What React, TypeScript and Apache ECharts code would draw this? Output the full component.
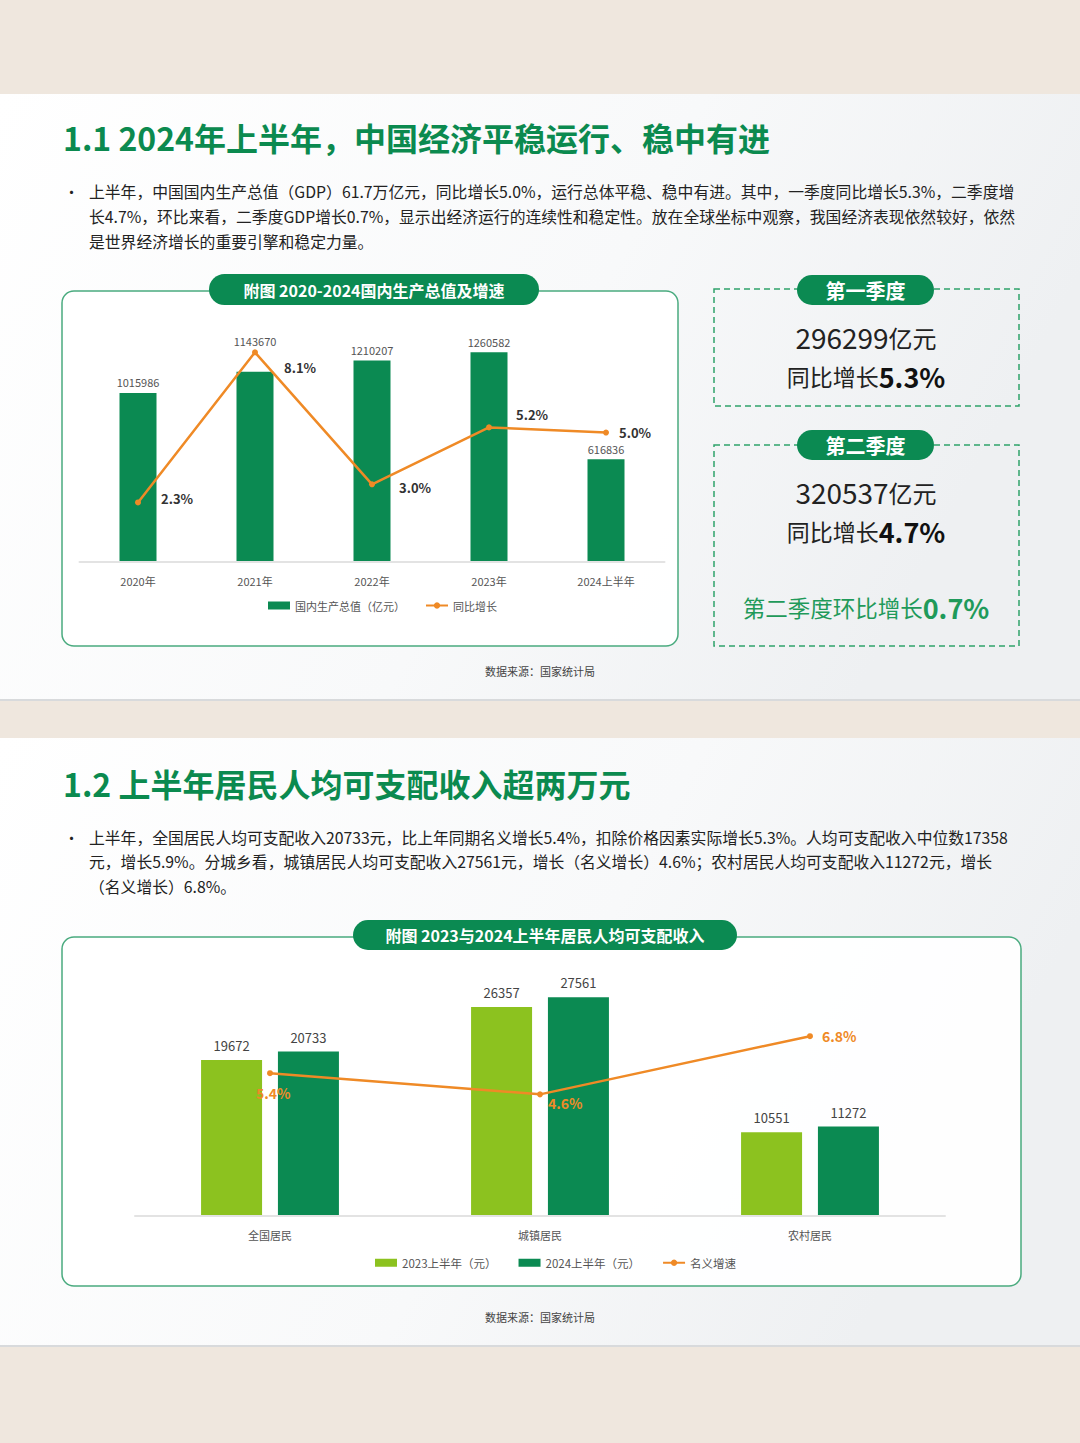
import React, { useEffect, useRef } from "react";
import * as echarts from "echarts";

// chart 1: GDP 2020-2024H1
const years = ["2020年", "2021年", "2022年", "2023年", "2024上半年"];
const gdp = [1015986, 1143670, 1210207, 1260582, 616836];
const gdpGrowth = [2.3, 8.1, 3.0, 5.2, 5.0];

// chart 2: per-capita disposable income
const groups = ["全国居民", "城镇居民", "农村居民"];
const income2023 = [19672, 26357, 10551];
const income2024 = [20733, 27561, 11272];
const incomeGrowth = [5.4, 4.6, 6.8];

// quarter cards
const quarters = [
  { name: "第一季度", value: "296299", growth: "5.3%" },
  { name: "第二季度", value: "320537", growth: "4.7%" },
];

const FONT = "'Noto Sans CJK SC', 'Noto Sans', sans-serif";
const GREEN = "#0b8a52";
const LIGHT = "#8cc21f";
const ORANGE = "#ef8a26";

const text1 = [
  "上半年，中国国内生产总值（GDP）61.7万亿元，同比增长5.0%，运行总体平稳、稳中有进。其中，一季度同比增长5.3%，二季度增",
  "长4.7%，环比来看，二季度GDP增长0.7%，显示出经济运行的连续性和稳定性。放在全球坐标中观察，我国经济表现依然较好，依然",
  "是世界经济增长的重要引擎和稳定力量。",
];
const text2 = [
  "上半年，全国居民人均可支配收入20733元，比上年同期名义增长5.4%，扣除价格因素实际增长5.3%。人均可支配收入中位数17358",
  "元，增长5.9%。分城乡看，城镇居民人均可支配收入27561元，增长（名义增长）4.6%；农村居民人均可支配收入11272元，增长",
  "（名义增长）6.8%。",
];

function txt(x: number, y: number, s: string, size: number, fill: string, weight = "normal", align = "left", z = 10): any {
  return {
    type: "text",
    z,
    style: {
      x, y, text: s, fill, fontSize: size, fontWeight: weight, fontFamily: FONT,
      align, textAlign: align, verticalAlign: "middle", textVerticalAlign: "middle",
    },
  };
}

function pill(x: number, y: number, w: number, h: number, label: string, size: number): any[] {
  return [
    { type: "rect", z: 5, shape: { x, y, width: w, height: h, r: h / 2 }, style: { fill: GREEN } },
    txt(x + w / 2, y + h / 2, label, size, "#ffffff", "bold", "center", 6),
  ];
}

function slideBg(y: number, h: number): any[] {
  return [
    {
      type: "rect", z: -10, shape: { x: 0, y, width: 1080, height: h },
      style: {
        fill: new echarts.graphic.LinearGradient(0, 0, 1, 0.3, [
          { offset: 0, color: "#ffffff" },
          { offset: 0.6, color: "#f8f9fa" },
          { offset: 1, color: "#eef0f2" },
        ]),
      },
    },
    { type: "rect", z: -9, shape: { x: 0, y: y + h - 1, width: 1080, height: 2 }, style: { fill: "#d8dadc" } },
  ];
}

function frame(x: number, y: number, w: number, h: number): any[] {
  return [
    { type: "rect", z: -5, shape: { x, y, width: w, height: h, r: 12 }, style: { fill: "rgba(255,255,255,0.92)" } },
    { type: "rect", z: 1, shape: { x, y, width: w, height: h, r: 12 }, style: { fill: "none", stroke: "#4aab7f", lineWidth: 1.5 } },
  ];
}

function rich(x: number, y: number, s: string, styles: any, z = 10): any {
  return {
    type: "text",
    z,
    style: {
      x, y, text: s, rich: styles, fontFamily: FONT,
      align: "center", textAlign: "center", verticalAlign: "middle", textVerticalAlign: "middle",
    },
  };
}

export default function App() {
  const ref = useRef<HTMLDivElement | null>(null);

  useEffect(() => {
    const chart = echarts.init(ref.current!, null, { renderer: "svg" });

    const graphics: any[] = [
      { type: "rect", z: -20, shape: { x: 0, y: 0, width: 1080, height: 1443 }, style: { fill: "#efe7de" } },
      ...slideBg(94, 606),
      ...slideBg(738, 608),
      txt(63, 137, "1.1 2024年上半年，中国经济平稳运行、稳中有进", 32, "#0b8a4f", "bold"),
      txt(63, 783, "1.2 上半年居民人均可支配收入超两万元", 32, "#0b8a4f", "bold"),
      txt(64, 191, "•", 15, "#222"),
      txt(64, 837, "•", 15, "#222"),
      ...text1.map((s, i) => txt(89, 191 + i * 25, s, 15.8, "#222")),
      ...text2.map((s, i) => txt(89, 837 + i * 24.5, s, 15.8, "#222")),
      // chart frames
      ...frame(62, 291, 616, 355),
      ...pill(209, 274, 330, 31, "附图 2020-2024国内生产总值及增速", 16),
      ...frame(62, 937, 959, 349),
      ...pill(353, 920, 384, 30, "附图 2023与2024上半年居民人均可支配收入", 16),
      txt(540, 671, "数据来源：国家统计局", 11, "#444", "normal", "center"),
      txt(540, 1317, "数据来源：国家统计局", 11, "#444", "normal", "center"),
      // quarter cards
      { type: "rect", z: 1, shape: { x: 714, y: 289, width: 305, height: 117 }, style: { fill: "none", stroke: "#2fa36b", lineWidth: 1.5, lineDash: [6, 4] } },
      { type: "rect", z: 1, shape: { x: 714, y: 445, width: 305, height: 201 }, style: { fill: "none", stroke: "#2fa36b", lineWidth: 1.5, lineDash: [6, 4] } },
      ...pill(797, 275, 137, 30, quarters[0].name, 20),
      ...pill(797, 430, 137, 30, quarters[1].name, 20),
      ...quarters.flatMap((q, i) => {
        const y0 = i === 0 ? 337 : 492;
        return [
          rich(866, y0, `{a|${q.value}}{b|亿元}`, {
            a: { fontSize: 28, fill: "#222", color: "#222", fontFamily: FONT },
            b: { fontSize: 24, fill: "#222", color: "#222", fontFamily: FONT },
          }),
          rich(866, y0 + 39, `{a|同比增长}{b|${q.growth}}`, {
            a: { fontSize: 23, fill: "#222", color: "#222", fontFamily: FONT },
            b: { fontSize: 27, fontWeight: "bold", fill: "#111", color: "#111", fontFamily: FONT },
          }),
        ];
      }),
      rich(866, 607, "{a|第二季度环比增长}{b|0.7%}", {
        a: { fontSize: 22.5, fill: "#1f9a5a", color: "#1f9a5a", fontFamily: FONT },
        b: { fontSize: 27, fontWeight: "bold", fill: "#1f9a5a", color: "#1f9a5a", fontFamily: FONT },
      }),
    ];

    const growthOffsets = [[20, -4], [26, 15], [24, 3], [24, -13], [10, 0]];
    const incomeOffsets = [[-17, 20], [5, 9], [9, 0]];

    chart.setOption({
      animation: false,
      textStyle: { fontFamily: FONT },
      graphic: graphics,
      grid: [
        { left: 79.5, top: 329, width: 585, height: 233 },
        { left: 135, top: 978, width: 810, height: 238 },
      ],
      xAxis: [
        {
          type: "category", gridIndex: 0, data: years, z: 4,
          axisLine: { lineStyle: { color: "#e3e3e3", width: 2 } }, axisTick: { show: false },
          axisLabel: { color: "#555", fontSize: 11, margin: 13 },
        },
        {
          type: "category", gridIndex: 1, data: groups, z: 4,
          axisLine: { lineStyle: { color: "#e3e3e3", width: 2 } }, axisTick: { show: false },
          axisLabel: { color: "#555", fontSize: 11, margin: 13 },
        },
      ],
      yAxis: [
        { type: "value", gridIndex: 0, min: 0, max: 1400000, show: false },
        { type: "value", gridIndex: 0, min: 0, max: 9, show: false },
        { type: "value", gridIndex: 1, min: 0, max: 30000, show: false },
        { type: "value", gridIndex: 1, min: 0, max: 9, show: false },
      ],
      legend: [
        {
          left: 263, top: 595, itemWidth: 22, itemHeight: 8, itemGap: 20,
          data: [{ name: "国内生产总值（亿元）", icon: "rect" }, { name: "同比增长" }],
          textStyle: { color: "#555", fontSize: 11, fontFamily: FONT },
        },
        {
          left: 370, top: 1252, itemWidth: 22, itemHeight: 8, itemGap: 22,
          data: [{ name: "2023上半年（元）", icon: "rect" }, { name: "2024上半年（元）", icon: "rect" }, { name: "名义增速" }],
          textStyle: { color: "#555", fontSize: 11.5, fontFamily: FONT },
        },
      ],
      series: [
        {
          name: "国内生产总值（亿元）", type: "bar", xAxisIndex: 0, yAxisIndex: 0, barWidth: 37,
          itemStyle: { color: GREEN },
          data: gdp.map((v, i) => (i === 1 ? { value: v, label: { offset: [0, -20] } } : v)),
          label: { show: true, position: "top", distance: 5, color: "#555", fontSize: 11 },
        },
        {
          name: "同比增长", type: "line", xAxisIndex: 0, yAxisIndex: 1,
          symbol: "circle", symbolSize: 6, lineStyle: { color: ORANGE, width: 2.5 }, itemStyle: { color: ORANGE },
          data: gdpGrowth.map((v, i) => ({ value: v, label: { offset: growthOffsets[i] } })),
          label: {
            show: true, position: "right", distance: 0, color: "#333", fontSize: 13, fontWeight: "bold",
            formatter: (p: any) => p.value.toFixed(1) + "%",
          },
          z: 5,
        },
        {
          name: "2023上半年（元）", type: "bar", xAxisIndex: 1, yAxisIndex: 2, barWidth: 61, barGap: "26%",
          itemStyle: { color: LIGHT }, data: income2023,
          label: { show: true, position: "top", distance: 8, color: "#444", fontSize: 13 },
        },
        {
          name: "2024上半年（元）", type: "bar", xAxisIndex: 1, yAxisIndex: 2, barWidth: 61, barGap: "26%",
          itemStyle: { color: GREEN }, data: income2024,
          label: { show: true, position: "top", distance: 8, color: "#444", fontSize: 13 },
        },
        {
          name: "名义增速", type: "line", xAxisIndex: 1, yAxisIndex: 3,
          symbol: "circle", symbolSize: 6, lineStyle: { color: ORANGE, width: 2.5 }, itemStyle: { color: ORANGE },
          data: incomeGrowth.map((v, i) => ({ value: v, label: { offset: incomeOffsets[i] } })),
          label: {
            show: true, position: "right", distance: 0, color: ORANGE, fontSize: 14, fontWeight: "bold",
            formatter: (p: any) => p.value.toFixed(1) + "%",
          },
          z: 5,
        },
      ],
    });

    return () => chart.dispose();
  }, []);

  return <div ref={ref} style={{ position: "absolute", left: 0, top: 0, width: 1080, height: 1443 }} />;
}
